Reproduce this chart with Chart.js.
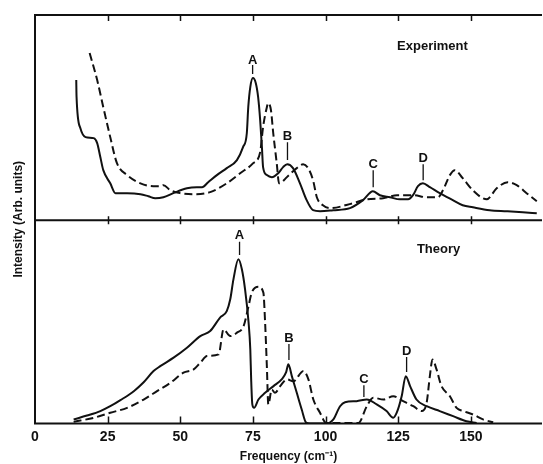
<!DOCTYPE html>
<html>
<head>
<meta charset="utf-8">
<script src="https://cdn.jsdelivr.net/npm/chart.js@4.4.1/dist/chart.umd.min.js"></script>
<style>
  html, body { margin: 0; padding: 0; background: #ffffff; }
  #wrap { position: relative; width: 543px; height: 464px; }
</style>
</head>
<body>
<div id="wrap"><canvas id="c" width="543" height="464"></canvas></div>
<script>
// ---------- data ----------
const xTicks = [0, 25, 50, 75, 100, 125, 150];

// Experiment, solid curve
const expFreqSolid = [14.2,14.3,15.6,17.4,20.2,21.4,22.5,23.5,25.9,27.7,31.7,36.3,39.0,41.4,44.2,47.6,52.3,55.7,57.5,59.6,62.6,66.0,69.5,71.6,72.9,73.4,74.1,75.0,76.0,76.8,77.5,78.1,78.5,79.8,81.5,83.7,85.4,86.8,88.8,91.2,93.5,95.7,98.1,102.6,108.4,112.9,116.3,118.7,122.2,125.6,128.4,130.1,131.8,133.5,135.9,139.3,143.8,147.2,150.7,156.5,162.4,167.9,172.7];
const expSolid = [68.3,60.1,44.9,40.5,40.0,37.6,30.7,24.4,18.0,13.2,13.2,12.7,11.7,10.7,11.2,13.2,15.6,16.1,16.1,18.5,22.0,25.4,29.3,35.6,42.4,55.1,64.9,69.3,66.8,60.0,48.8,35.6,25.9,22.0,21.0,22.9,25.9,27.3,25.4,18.0,9.8,4.9,4.4,4.9,5.9,9.8,14.1,12.2,11.2,10.2,10.2,12.2,16.6,18.0,16.1,13.2,9.8,7.3,6.3,4.9,4.4,3.9,3.4];

// Experiment, dashed curve
const expFreqDashed = [18.8,21.4,23.5,25.9,28.2,31.7,36.3,40.7,43.1,44.2,46.6,50.0,54.5,60.3,66.0,70.6,75.1,77.5,78.5,79.8,80.2,81.2,82.0,83.2,84.0,84.9,86.7,90.1,92.3,94.0,95.7,97.0,99.1,101.5,109.4,114.3,119.8,124.6,130.1,134.9,138.7,140.4,142.8,144.5,147.2,150.7,155.5,158.9,162.7,165.8,169.2,172.7];
const expDashed = [81.5,68.3,55.1,40.5,27.8,22.0,18.0,16.6,16.6,17.1,14.6,13.2,12.7,13.7,18.0,22.9,27.8,33.2,45.4,55.1,57.1,53.7,42.4,27.8,18.0,18.5,21.0,25.4,27.3,25.4,19.5,11.2,7.3,5.9,8.3,10.2,10.7,12.2,12.2,11.2,11.2,14.6,22.0,24.4,20.5,14.6,10.2,15.6,18.5,17.1,13.2,9.3];

// Theory, solid curve
const thFreqSolid = [13.3,17.9,22.5,25.9,29.4,34.0,37.4,40.8,43.1,47.7,52.3,56.9,60.3,63.7,66.0,67.2,68.3,70.0,71.2,72.3,73.5,74.1,74.4,74.8,75.4,76.9,79.2,82.1,84.9,86.4,87.2,88.4,90.1,91.8,93.3,94.7,100.4,102.7,105.0,106.7,110.7,114.2,117.6,121.0,123.3,124.5,126.2,127.6,129.1,131.3,134.8,139.3,143.9,148.5,152.0];
const thSolid = [2.0,3.9,6.1,8.5,11.5,15.9,20.3,25.8,28.2,32.4,37.3,43.0,45.5,52.1,55.3,61.1,70.9,80.8,75.9,66.0,49.8,36.5,21.7,9.4,7.7,11.8,15.1,18.4,21.7,25.1,29.1,23.3,15.1,6.9,0.5,0,0,2.0,8.5,10.5,11.0,11.8,9.4,6.1,2.8,5.3,13.4,23.3,18.4,11.8,8.5,6.1,3.6,1.1,0.3];

// Theory, dashed curve
const thFreqDashed = [13.3,20.2,25.9,31.7,37.4,42.0,46.6,51.1,54.6,56.9,59.2,63.2,64.9,67.2,69.5,71.8,73.5,74.6,76.9,78.6,79.2,79.8,80.3,81.5,82.6,84.4,86.7,88.9,92.4,94.1,95.8,98.1,100.2,111.3,114.2,116.4,119.9,123.3,126.7,130.2,133.1,134.8,135.9,136.8,138.2,139.9,142.8,145.1,147.4,150.8,154.2,157.7];
const thDashed = [0.8,2.8,5.3,7.7,11.8,15.9,20.0,25.0,26.6,29.9,33.2,34.0,46.3,43.0,44.7,47.9,57.8,64.4,67.3,64.4,49.6,28.2,9.4,16.7,15.1,18.4,21.7,20.8,25.8,21.7,11.8,5.3,0.3,0.3,8.5,12.7,11.8,13.4,11.0,8.5,6.1,10.2,23.3,31.5,26.6,18.4,13.4,7.7,6.1,4.4,2.0,0.6];

// Peak labels
const peakNames = ['A', 'B', 'C', 'D'];
const expPeakFreq = [74.9, 86.9, 116.4, 133.6];
const expLetterVal = [78.0, 41.0, 27.3, 30.2];
const expLineTop = [75.6, 38.0, 24.4, 27.3];
const expLineBottom = [71.2, 29.3, 16.1, 19.5];
const thPeakFreq = [70.4, 87.4, 113.2, 127.9];
const thLetterVal = [92.7, 41.9, 21.7, 35.3];
const thLineTop = [89.4, 39.1, 18.8, 32.7];
const thLineBottom = [82.9, 31.2, 13.0, 25.3];

const panelTitles = ['Experiment', 'Theory'];
const panelTitleFreq = [136.8, 138.9];
const panelTitleVal = [84.5, 85.7];

// ---------- chart ----------
const FONT = "'Liberation Sans', Arial, sans-serif";
const INK = '#111111';
const pts = (xs, ys) => xs.map((x, i) => ({ x: x, y: ys[i] }));

const lineDs = (xs, ys, axis, dashed) => ({
  data: pts(xs, ys),
  yAxisID: axis,
  borderColor: INK,
  borderWidth: 2,
  borderDash: dashed ? [8, 4] : [],
  pointRadius: 0,
  fill: false,
  cubicInterpolationMode: 'monotone'
});

const framePlugin = {
  id: 'frame',
  afterDatasetsDraw(chart) {
    const { ctx } = chart;
    const x = chart.scales.x, yT = chart.scales.yTop, yB = chart.scales.yBot;
    const L = x.left, R = x.right, t = yT.top, m = yT.bottom, b = yB.bottom;
    ctx.save();
    ctx.strokeStyle = INK;
    ctx.lineWidth = 2;
    ctx.setLineDash([]);
    ctx.beginPath();
    ctx.moveTo(R, t); ctx.lineTo(L, t); ctx.lineTo(L, b); ctx.lineTo(R, b);
    ctx.moveTo(L, m); ctx.lineTo(R, m);
    ctx.stroke();
    ctx.lineWidth = 1.5;
    ctx.beginPath();
    xTicks.forEach(v => {
      if (v === 0) return;
      const px = Math.round(x.getPixelForValue(v)) + 0.5;
      ctx.moveTo(px, t); ctx.lineTo(px, t + 6);
      ctx.moveTo(px, m - 4); ctx.lineTo(px, m + 4);
      ctx.moveTo(px, b); ctx.lineTo(px, b - 7);
    });
    ctx.stroke();

    // peak labels
    ctx.fillStyle = INK;
    ctx.textAlign = 'center';
    ctx.textBaseline = 'middle';
    ctx.font = "bold 13px " + FONT;
    const drawPeaks = (scale, fr, lv, lt, lb) => {
      ctx.lineWidth = 1.3;
      ctx.beginPath();
      peakNames.forEach((n, i) => {
        const px = x.getPixelForValue(fr[i]);
        ctx.fillText(n, px, scale.getPixelForValue(lv[i]));
        ctx.moveTo(px, scale.getPixelForValue(lt[i]));
        ctx.lineTo(px, scale.getPixelForValue(lb[i]));
      });
      ctx.stroke();
    };
    drawPeaks(yT, expPeakFreq, expLetterVal, expLineTop, expLineBottom);
    drawPeaks(yB, thPeakFreq, thLetterVal, thLineTop, thLineBottom);

    ctx.fillText(panelTitles[0], x.getPixelForValue(panelTitleFreq[0]), yT.getPixelForValue(panelTitleVal[0]));
    ctx.fillText(panelTitles[1], x.getPixelForValue(panelTitleFreq[1]), yB.getPixelForValue(panelTitleVal[1]));
    ctx.restore();
  }
};

new Chart(document.getElementById('c'), {
  type: 'line',
  data: {
    datasets: [
      lineDs(expFreqSolid, expSolid, 'yTop', false),
      lineDs(expFreqDashed, expDashed, 'yTop', true),
      lineDs(thFreqSolid, thSolid, 'yBot', false),
      lineDs(thFreqDashed, thDashed, 'yBot', true)
    ]
  },
  options: {
    responsive: false,
    animation: false,
    devicePixelRatio: 1,
    layout: { padding: { top: 15, right: 1, left: 0, bottom: 0 } },
    plugins: { legend: { display: false }, tooltip: { enabled: false } },
    scales: {
      x: {
        type: 'linear', position: 'bottom', min: 0, max: 174.5,
        grid: { display: false, drawTicks: false },
        border: { display: false },
        afterBuildTicks: s => { s.ticks = xTicks.map(v => ({ value: v })); },
        ticks: {
          font: { family: FONT, size: 14, weight: 'bold' }, color: INK,
          padding: 5, maxRotation: 0, autoSkip: false
        },
        title: {
          display: true, text: 'Frequency (cm\u207B\u00B9)',
          font: { family: FONT, size: 12, weight: 'bold' }, color: INK,
          padding: { top: 0, bottom: 0 }
        },
        afterFit: s => { s.height = 40.5; }
      },
      yTitle: {
        type: 'linear', position: 'left', weight: 10,
        grid: { display: false, drawTicks: false },
        border: { display: false },
        ticks: { display: false },
        title: {
          display: true, text: 'Intensity (Arb. units)',
          font: { family: FONT, size: 12, weight: 'bold' }, color: INK,
          padding: { top: 11, bottom: 0 }
        },
        afterFit: s => { s.width = 35; }
      },
      yTop: {
        type: 'linear', position: 'left', stack: 'panels', stackWeight: 205, weight: 2,
        min: 0, max: 100, display: false
      },
      yBot: {
        type: 'linear', position: 'left', stack: 'panels', stackWeight: 203, weight: 1,
        min: 0, max: 100, display: false
      }
    }
  },
  plugins: [framePlugin]
});
</script>
</body>
</html>
